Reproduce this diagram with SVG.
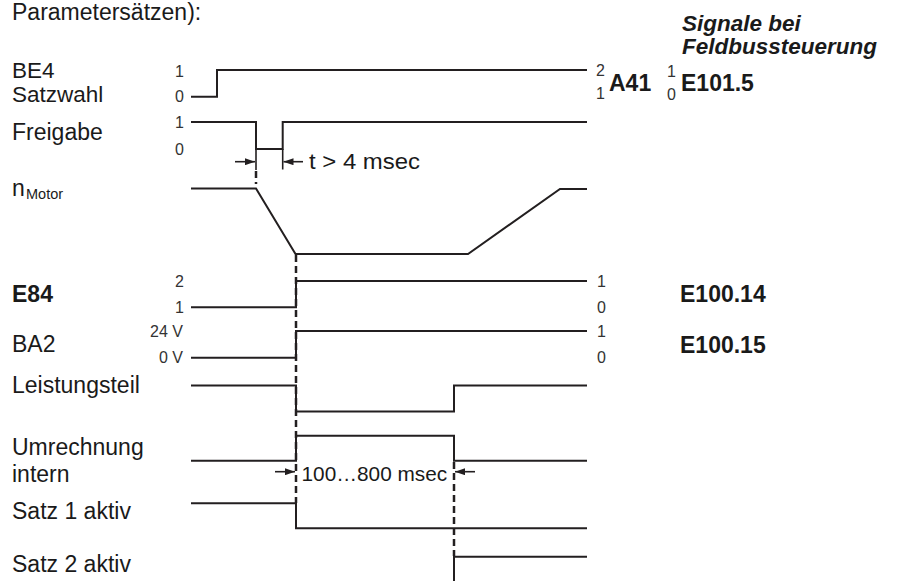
<svg xmlns="http://www.w3.org/2000/svg" width="901" height="581" viewBox="0 0 901 581">
<style>
text{font-family:"Liberation Sans",Arial,Helvetica,sans-serif;fill:#1a1a1a}
.lbl{font-size:23px}
.lb2{font-size:22.5px}
.b{font-size:23px;font-weight:bold}
.bi{font-size:22.5px;font-weight:bold;font-style:italic}
.s{font-size:16px;fill:#333}
.sr{font-size:16px;fill:#333;text-anchor:end}
.sig{fill:none;stroke:#231f20;stroke-width:2}
.dash{fill:none;stroke:#231f20;stroke-width:2.5;stroke-dasharray:7 4}
.dim{fill:none;stroke:#231f20;stroke-width:1.6}
</style>
<defs>
<marker id="ah" viewBox="0 0 10 7" refX="10" refY="3.5" markerWidth="10" markerHeight="7" markerUnits="userSpaceOnUse" orient="auto">
<path d="M0,0 L10,3.5 L0,7 z" fill="#231f20"/>
</marker>
</defs>
<rect width="901" height="581" fill="#fff"/>
<g id="header">
<text class="lbl" x="12" y="19.5">Parametersätzen):</text>
<text class="bi" x="682" y="31">Signale bei</text>
<text class="bi" x="682" y="54">Feldbussteuerung</text>
</g>
<g id="connectors">
<path class="dash" d="M256,171 V184"/>
<path class="dash" d="M296,255 V503"/>
<path class="dash" d="M454,462 V556"/>
<path class="sig" d="M191,96.7 H217 V70 H587"/>
<path class="sig" d="M191,122 H256 V149 H282.7 V122 H587"/>
<path class="sig" d="M191,188.5 H256 L295.5,254 H468 L560,189 H587"/>
<path class="sig" d="M191,307.3 H296 V281 H587"/>
<path class="sig" d="M191,357.7 H296 V331 H587"/>
<path class="sig" d="M191,385.5 H296 V411.5 H454 V385.5 H587"/>
<path class="sig" d="M191,460.7 H296 V435.7 H454 V460.7 H587"/>
<path class="sig" d="M191,503.3 H296 V528.3 H587"/>
<path class="sig" d="M454,581 V556.7 H587"/>
<path class="dim" d="M256,149 V170"/>
<path class="dim" d="M282.7,149 V169.5"/>
<path class="dim" d="M235,161.7 H255" marker-end="url(#ah)"/>
<path class="dim" d="M303,161.7 H283.5" marker-end="url(#ah)"/>
<path class="dim" d="M275,471.7 H295" marker-end="url(#ah)"/>
<path class="dim" d="M475,471.7 H455" marker-end="url(#ah)"/>
</g>
<g id="be4">
<text class="lb2" x="12" y="78">BE4</text>
<text class="lb2" x="12" y="102">Satzwahl</text>
<text class="sr" x="184" y="76.5">1</text>
<text class="sr" x="184" y="102">0</text>
<text class="s" x="596" y="76">2</text>
<text class="s" x="596" y="98.5">1</text>
<text class="b" x="609" y="91">A41</text>
<text class="s" x="667" y="77">1</text>
<text class="s" x="667" y="100">0</text>
<text class="b" x="681" y="91">E101.5</text>
</g>
<g id="freigabe">
<text class="lbl" x="12" y="140">Freigabe</text>
<text class="sr" x="184" y="128">1</text>
<text class="sr" x="184" y="155">0</text>
<text style="font-size:22px" x="309" y="168.5" textLength="111" lengthAdjust="spacingAndGlyphs">t &gt; 4 msec</text>
</g>
<g id="nmotor">
<text class="lbl" x="12" y="196">n</text>
<text style="font-size:14.5px" x="26" y="199">Motor</text>
</g>
<g id="e84">
<text class="b" x="12" y="301.7">E84</text>
<text class="sr" x="184" y="287">2</text>
<text class="sr" x="184" y="313">1</text>
<text class="s" x="597" y="287">1</text>
<text class="s" x="597" y="313">0</text>
<text class="b" x="680" y="302">E100.14</text>
</g>
<g id="ba2">
<text class="lbl" x="12" y="351.7">BA2</text>
<text class="sr" x="183" y="337">24 V</text>
<text class="sr" x="183" y="363">0 V</text>
<text class="s" x="597" y="337">1</text>
<text class="s" x="597" y="363">0</text>
<text class="b" x="680" y="353">E100.15</text>
</g>
<g id="leistungsteil">
<text class="lbl" x="12" y="392.7">Leistungsteil</text>
</g>
<g id="umrechnung">
<text class="lbl" x="12" y="455">Umrechnung</text>
<text class="lbl" x="12" y="481.7">intern</text>
<text style="font-size:20.8px" x="301.5" y="481">100…800 msec</text>
</g>
<g id="satz1">
<text class="lbl" x="12" y="519.3">Satz 1 aktiv</text>
</g>
<g id="satz2">
<text class="lbl" x="12" y="571.7">Satz 2 aktiv</text>
</g>
</svg>
